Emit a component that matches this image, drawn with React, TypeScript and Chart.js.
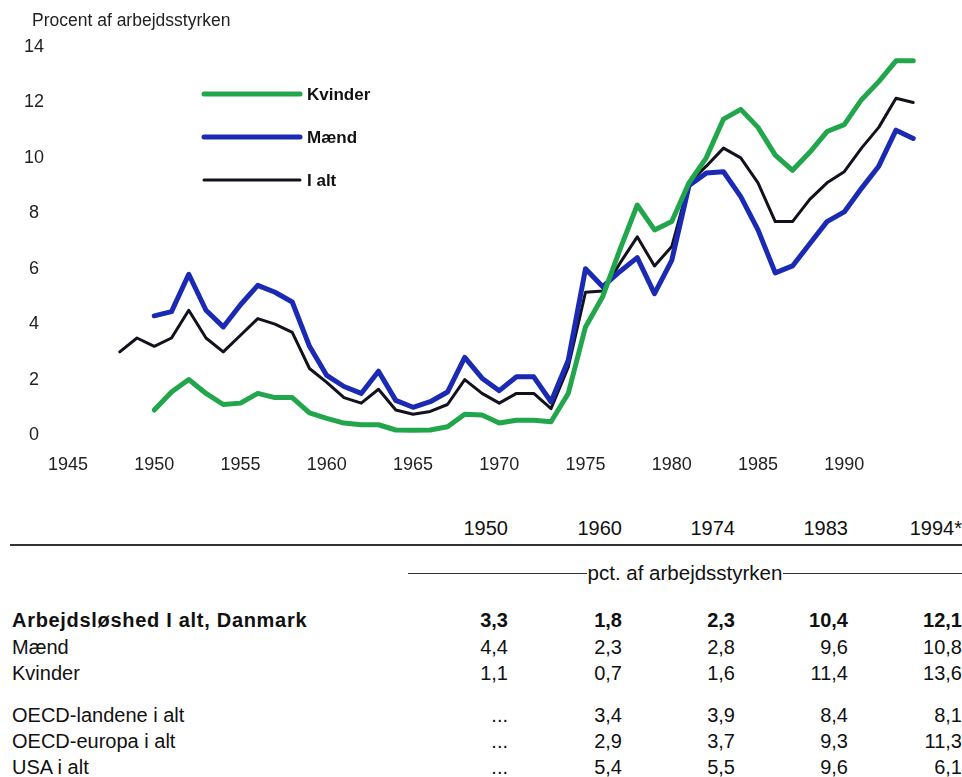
import React, { useEffect, useRef } from "react";
import { Chart, registerables } from "chart.js";

Chart.register(...registerables);

const yearsTotal = [
  1948, 1949, 1950, 1951, 1952, 1953, 1954, 1955, 1956, 1957, 1958, 1959,
  1960, 1961, 1962, 1963, 1964, 1965, 1966, 1967, 1968, 1969,
  1970, 1971, 1972, 1973, 1974, 1975, 1976, 1977, 1978, 1979,
  1980, 1981, 1982, 1983, 1984, 1985, 1986, 1987, 1988, 1989,
  1990, 1991, 1992, 1993, 1994,
];
const totalValues = [
  3.0, 3.5, 3.2, 3.5, 4.5, 3.5, 3.0, 3.6, 4.2, 4.0, 3.7, 2.4,
  1.9, 1.35, 1.15, 1.65, 0.9, 0.75, 0.85, 1.1, 2.0, 1.5,
  1.15, 1.5, 1.5, 0.95, 2.45, 5.15, 5.2, 6.2, 7.15, 6.1,
  6.8, 9.1, 9.7, 10.35, 10.0, 9.1, 7.7, 7.7, 8.5, 9.1,
  9.5, 10.35, 11.1, 12.15, 12.0,
];

const yearsSex = [
  1950, 1951, 1952, 1953, 1954, 1955, 1956, 1957, 1958, 1959,
  1960, 1961, 1962, 1963, 1964, 1965, 1966, 1967, 1968, 1969,
  1970, 1971, 1972, 1973, 1974, 1975, 1976, 1977, 1978, 1979,
  1980, 1981, 1982, 1983, 1984, 1985, 1986, 1987, 1988, 1989,
  1990, 1991, 1992, 1993, 1994,
];
const menValues = [
  4.3, 4.45, 5.8, 4.5, 3.9, 4.7, 5.4, 5.15, 4.8, 3.2,
  2.15, 1.75, 1.5, 2.3, 1.25, 1.0, 1.2, 1.55, 2.8, 2.05,
  1.6, 2.1, 2.1, 1.2, 2.7, 6.0, 5.35, 5.9, 6.4, 5.1,
  6.3, 9.0, 9.45, 9.5, 8.6, 7.4, 5.85, 6.1, 6.9, 7.7,
  8.05, 8.9, 9.7, 11.0, 10.7,
];
const womenValues = [
  0.9, 1.55, 2.0, 1.5, 1.1, 1.15, 1.5, 1.35, 1.35, 0.8,
  0.6, 0.43, 0.37, 0.37, 0.18, 0.17, 0.18, 0.3, 0.75, 0.72,
  0.43, 0.53, 0.53, 0.48, 1.5, 3.9, 5.0, 6.7, 8.3, 7.4,
  7.7, 9.1, 10.0, 11.4, 11.75, 11.1, 10.1, 9.55, 10.2, 10.95,
  11.2, 12.1, 12.75, 13.5, 13.5,
];

const seriesLabels = ["Kvinder", "Mænd", "I alt"];
const seriesColors = ["#22a64c", "#1a2ab4", "#12121e"];
const seriesWidths = [5, 5, 3];

const yAxisTitle = "Procent af arbejdsstyrken";

// Table
const tableYears = ["1950", "1960", "1974", "1983", "1994*"];
const tableUnit = "pct. af arbejdsstyrken";
const rowLabels = [
  "Arbejdsløshed I alt, Danmark",
  "Mænd",
  "Kvinder",
  "OECD-landene i alt",
  "OECD-europa i alt",
  "USA i alt",
];
const rowTotalDK = ["3,3", "1,8", "2,3", "10,4", "12,1"];
const rowMen = ["4,4", "2,3", "2,8", "9,6", "10,8"];
const rowWomen = ["1,1", "0,7", "1,6", "11,4", "13,6"];
const rowOECD = ["...", "3,4", "3,9", "8,4", "8,1"];
const rowOECDEurope = ["...", "2,9", "3,7", "9,3", "11,3"];
const rowUSA = ["...", "5,4", "5,5", "9,6", "6,1"];
const tableRows = [rowTotalDK, rowMen, rowWomen, rowOECD, rowOECDEurope, rowUSA];

const FONT = '"Liberation Sans", Arial, sans-serif';

const legendPlugin = {
  id: "customLegend",
  afterDatasetsDraw(chart: any) {
    const ctx = chart.ctx;
    const x0 = 204;
    const x1 = 300;
    const ys = [94, 137, 180];
    ctx.save();
    chart.data.datasets.forEach((ds: any, i: number) => {
      ctx.beginPath();
      ctx.strokeStyle = ds.borderColor;
      ctx.lineWidth = ds.borderWidth;
      ctx.lineCap = "round";
      ctx.moveTo(x0, ys[i]);
      ctx.lineTo(x1, ys[i]);
      ctx.stroke();
      ctx.fillStyle = "#111";
      ctx.font = `bold 17px ${FONT}`;
      ctx.textBaseline = "middle";
      ctx.textAlign = "left";
      ctx.fillText(ds.label, 307, ys[i] + 1);
    });
    ctx.restore();
  },
};

function ChartBlock() {
  const ref = useRef<HTMLCanvasElement | null>(null);
  useEffect(() => {
    if (!ref.current) return;
    const series = [
      yearsSex.map((y, i) => ({ x: y, y: womenValues[i] })),
      yearsSex.map((y, i) => ({ x: y, y: menValues[i] })),
      yearsTotal.map((y, i) => ({ x: y, y: totalValues[i] })),
    ];
    const chart = new Chart(ref.current, {
      type: "line",
      data: {
        datasets: series.map((d, i) => ({
          label: seriesLabels[i],
          data: d,
          borderColor: seriesColors[i],
          backgroundColor: seriesColors[i],
          borderWidth: seriesWidths[i],
          pointRadius: 0,
          tension: 0,
          borderJoinStyle: "round",
          borderCapStyle: "round",
          fill: false,
        })),
      },
      options: {
        animation: false,
        responsive: false,
        maintainAspectRatio: false,
        layout: { padding: { left: 16, right: 31.5, top: 47, bottom: 5 } },
        plugins: {
          legend: { display: false },
          tooltip: { enabled: false },
          title: { display: false },
        },
        scales: {
          x: {
            type: "linear",
            min: 1945,
            max: 1995,
            border: { display: false },
            grid: { display: false },
            ticks: {
              stepSize: 5,
              autoSkip: false,
              maxRotation: 0,
              padding: 11,
              color: "#222",
              font: { size: 18, family: FONT },
              callback: (v: any) => (v === 1995 ? "" : String(v)),
            },
            afterFit: (s: any) => {
              s.height = 50;
            },
          },
          y: {
            min: 0,
            max: 14,
            border: { display: false },
            grid: { display: false },
            ticks: {
              stepSize: 2,
              crossAlign: "center",
              padding: 16,
              color: "#222",
              font: { size: 18, family: FONT },
              callback: (v: any) => String(v),
            },
            afterFit: (s: any) => {
              s.width = 52;
            },
          },
        },
      },
      plugins: [legendPlugin],
    } as any);
    return () => chart.destroy();
  }, []);
  return (
    <canvas
      ref={ref}
      width={962}
      height={490}
      style={{ position: "absolute", left: 0, top: 0, width: 962, height: 490 }}
    />
  );
}

const colRights = [508, 622, 735, 848, 962];
const rowCenters = [620, 647, 673, 715, 741, 767];

export default function App() {
  const txt: React.CSSProperties = {
    position: "absolute",
    whiteSpace: "nowrap",
    lineHeight: "24px",
    height: 24,
    fontFamily: FONT,
    fontSize: 20,
    color: "#111",
  };
  return (
    <div
      style={{
        position: "absolute",
        left: 0,
        top: 0,
        width: 962,
        height: 777,
        background: "#fff",
        overflow: "hidden",
        fontFamily: FONT,
      }}
    >
      <ChartBlock />
      <div style={{ ...txt, left: 32, top: 8, fontSize: 17.5, color: "#222" }}>
        {yAxisTitle}
      </div>
      {tableYears.map((y, i) => (
        <div
          key={"h" + i}
          style={{ ...txt, right: 962 - colRights[i], top: 528 - 12, textAlign: "right" }}
        >
          {y}
        </div>
      ))}
      <div style={{ position: "absolute", left: 10, top: 544, width: 952, height: 2, background: "#333" }} />
      <div
        style={{
          position: "absolute",
          left: 408,
          width: 554,
          top: 573 - 12,
          height: 24,
          display: "flex",
          alignItems: "center",
        }}
      >
        <div style={{ flex: 1, height: 1, background: "#333" }} />
        <div style={{ ...txt, position: "static", padding: "0 1px", fontSize: 20.5 }}>{tableUnit}</div>
        <div style={{ flex: 1, height: 1, background: "#333" }} />
      </div>
      {rowLabels.map((l, r) => (
        <div
          key={"l" + r}
          style={{
            ...txt,
            left: 12,
            top: rowCenters[r] - 12,
            fontWeight: r === 0 ? "bold" : "normal",
            letterSpacing: r === 0 ? 0.7 : 0,
          }}
        >
          {l}
        </div>
      ))}
      {tableRows.map((row, r) =>
        row.map((v, c) => (
          <div
            key={"c" + r + "_" + c}
            style={{
              ...txt,
              right: 962 - colRights[c],
              top: rowCenters[r] - 12,
              textAlign: "right",
              fontWeight: r === 0 ? "bold" : "normal",
            }}
          >
            {v}
          </div>
        ))
      )}
    </div>
  );
}
